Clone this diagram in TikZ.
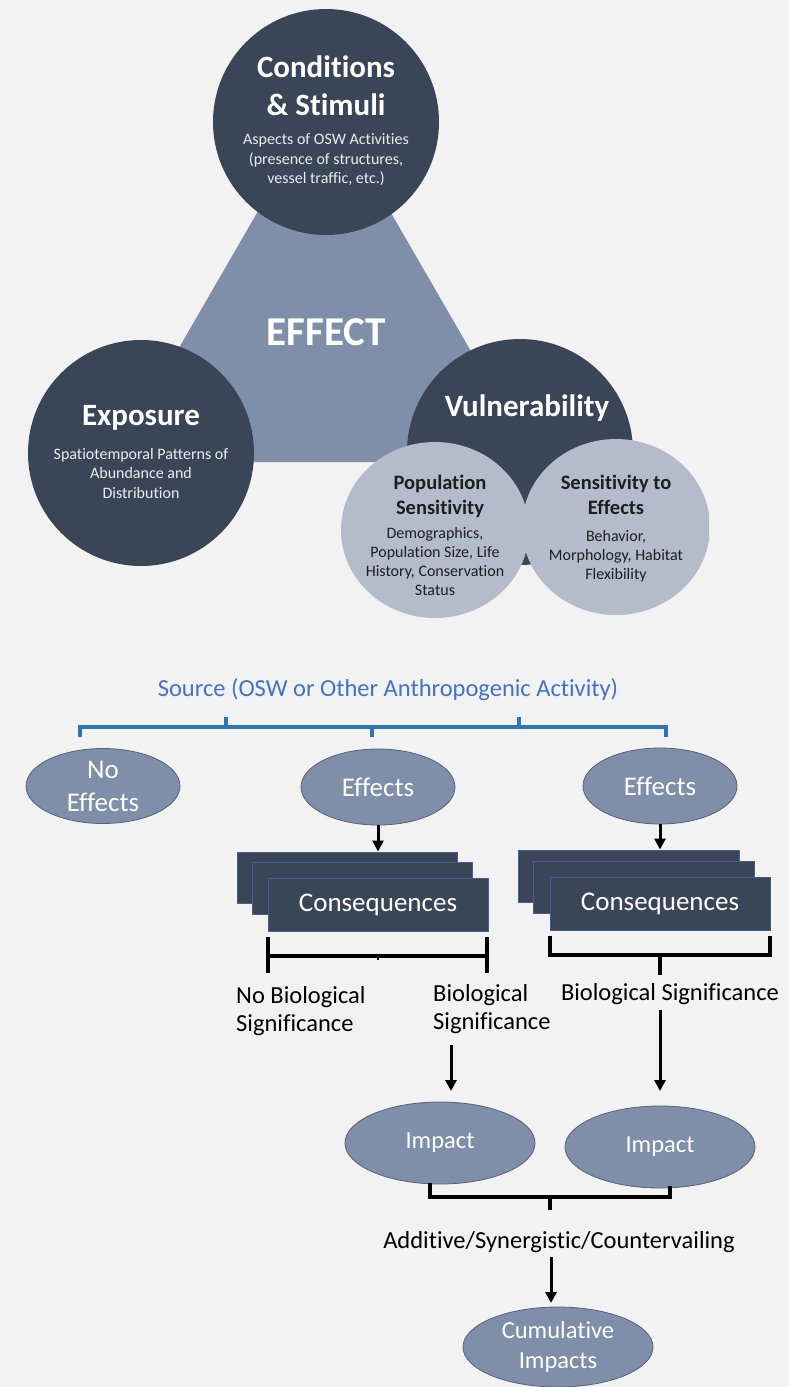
\documentclass[tikz,border=0pt]{standalone}
\usepackage{fontspec}
\setmainfont{Carlito}[Ligatures=NoCommon]
\usetikzlibrary{shapes.geometric,arrows.meta}
\definecolor{bg}{HTML}{F2F2F2}
\definecolor{navy}{HTML}{3B4558}
\definecolor{slate}{HTML}{7F8FA9}
\definecolor{lightc}{HTML}{B4BCCB}
\definecolor{ovaledge}{HTML}{56627A}
\definecolor{consedge}{HTML}{4A5C92}
\definecolor{srcblue}{HTML}{4472C4}
\definecolor{brblue}{HTML}{2E75B6}
\definecolor{darktext}{HTML}{1E1E1E}
\definecolor{softwhite}{HTML}{ECECEC}
\tikzset{
  darkcirc/.style={circle, fill=navy, minimum size=226pt, inner sep=0pt},
  lightcirc/.style={ellipse, fill=lightc, minimum width=188pt, minimum height=176pt, inner sep=0pt},
  head/.style={text=white, font=\bfseries\fontsize{31}{38}\selectfont, align=center, inner sep=0pt},
  small/.style={text=softwhite, font=\fontsize{16}{19.5}\selectfont, align=center, inner sep=0pt},
  lhead/.style={text=darktext, font=\bfseries\fontsize{20.5}{25}\selectfont, align=center, inner sep=0pt},
  lsmall/.style={text=darktext, font=\fontsize{16}{19}\selectfont, align=center, inner sep=0pt},
  oval/.style={ellipse, fill=slate, draw=ovaledge, line width=0.8pt, text=white, inner sep=0pt, align=center, font=\fontsize{27}{33}\selectfont},
  consbox/.style={rectangle, fill=navy, draw=consedge, line width=1pt, minimum width=220pt, minimum height=52pt, inner sep=0pt, text=white, font=\fontsize{27}{30}\selectfont},
  lbl/.style={text=black, font=\fontsize{24.5}{28}\selectfont, inner sep=0pt},
  link/.style={line width=3.3pt, black},
  arr/.style={line width=3pt, black, -{Triangle[length=11pt,width=11pt]}},
  bluebr/.style={line width=3.3pt, brblue}
}
\begin{document}
\begin{tikzpicture}[x=1pt,y=-1pt]
\fill[bg] (0,0) rectangle (789,1387);
\useasboundingbox (0,0) rectangle (789,1387);
% ---------- top figure ----------
\fill[slate] (113,462) -- (324,97) -- (535,462) -- cycle;
\node[darkcirc] (cond) at (326,122) {};
\node[darkcirc] (expo) at (141,453) {};
\node[darkcirc] (vuln) at (520,452) {};
\node[lightcirc] (pop) at (435,530) {};
\begin{scope}
\clip (0,0) rectangle (709,640);
\node[lightcirc] (sens) at (616,527) {};
\end{scope}
\node[text=white, font=\bfseries\fontsize{41}{45}\selectfont, inner sep=0pt] (effect) at (326,332) {EFFECT};
\node[head] (condh) at (326,86) {Conditions\\\& Stimuli};
\node[small] (conds) at (326,160) {Aspects of OSW Activities\\(presence of structures,\\vessel traffic, etc.)};
\node[head] (expoh) at (141,418) {Exposure};
\node[small] (expos) at (141,473) {Spatiotemporal Patterns of\\Abundance and\\Distribution};
\node[head] (vulnh) at (527,408) {Vulnerability};
\node[lhead] (poph) at (440,496) {Population\\Sensitivity};
\node[lsmall] (pops) at (435,561) {Demographics,\\Population Size, Life\\History, Conservation\\Status};
\node[lhead] (sensh) at (616,495) {Sensitivity to\\Effects};
\node[lsmall] (senss) at (616,556) {Behavior,\\Morphology, Habitat\\Flexibility};
% ---------- bottom flow ----------
\node[text=srcblue, font=\fontsize{24.5}{28}\selectfont, inner sep=0pt] (src) at (388,690) {Source (OSW or Other Anthropogenic Activity)};
\coordinate (bl) at (80,727);
\coordinate (br) at (666,727);
\coordinate (bm) at (372,727);
\coordinate (bu1) at (226,727);
\coordinate (bu2) at (519,727);
\draw[bluebr] ([yshift=-10pt]bl) -- (bl) -- (br) -- ([yshift=-10pt]br);
\draw[bluebr] (bm) -- ([yshift=-10pt]bm);
\draw[bluebr] (bu1) -- ([yshift=10pt]bu1);
\draw[bluebr] (bu2) -- ([yshift=10pt]bu2);

\node[oval, minimum width=154pt, minimum height=75pt] (noeff) at (103,786) {No\\Effects};
\node[oval, minimum width=154pt, minimum height=76pt] (eff1) at (378,787) {Effects};
\node[oval, minimum width=154pt, minimum height=76pt] (eff2) at (660,786) {Effects};

\node[consbox, minimum width=220pt, minimum height=51pt] (c1a) at (347,877.5) {};
\node[consbox, minimum width=220pt, minimum height=52pt] (c1b) at (362,888) {};
\node[consbox, minimum width=220pt, minimum height=53pt] (c1) at (378,904.5) {Consequences};
\node[consbox, minimum width=221pt, minimum height=52pt] (c2a) at (628.5,876) {};
\node[consbox, minimum width=221pt, minimum height=52pt] (c2b) at (643.5,887) {};
\node[consbox, minimum width=220pt, minimum height=53pt] (c2) at (660,903.5) {Consequences};

\draw[arr] (eff1.south) -- (eff1.south |- c1a.north);
\draw[arr] (eff2.south) -- (eff2.south |- c2a.north);

% bracket under first stack
\coordinate (m1l) at (268,956);
\coordinate (m1r) at (487,956);
\draw[link] ([yshift=19pt]m1l) -- ([yshift=-17pt]m1l);
\draw[link] ([yshift=19pt]m1r) -- ([yshift=-17pt]m1r);
\draw[link] (m1l) -- (m1r);
\draw[line width=2pt] (378,956) -- (378,960);

% bracket under second stack
\coordinate (m2l) at (550,955);
\coordinate (m2r) at (770,955);
\coordinate (m2m) at (660,955);
\draw[link] ([yshift=19pt]m2l) -- (m2l) -- (m2r) -- ([yshift=19pt]m2r);
\draw[link] (m2m) -- ([yshift=-20pt]m2m);

\node[lbl, anchor=west, align=left] (nobio) at (236,1011) {No Biological\\Significance};
\node[lbl, anchor=west, align=left] (bio1) at (433,1009) {Biological\\Significance};
\node[lbl] (bio2) at (670,994) {Biological Significance};

\node[oval, minimum width=190pt, minimum height=82pt, font=\fontsize{24.5}{30}\selectfont] (imp1) at (440,1143) {Impact};
\node[oval, minimum width=190pt, minimum height=82pt, font=\fontsize{24.5}{30}\selectfont] (imp2) at (660,1147) {Impact};

\coordinate (a1s) at (451,1045);
\coordinate (a1e) at (451,1091);
\coordinate (a2s) at (660,1010);
\coordinate (a2e) at (660,1091);
\draw[arr] (a1s) -- (a1e);
\draw[arr] (a2s) -- (a2e);

\coordinate (ibl) at (430,1197);
\coordinate (ibr) at (670,1197);
\coordinate (ibm) at (550,1197);
\draw[link] (430,1183) -- (ibl) -- (ibr) -- (670,1186);
\draw[link] (ibm) -- ([yshift=-13pt]ibm);

\node[lbl] (add) at (559,1242) {Additive/Synergistic/Countervailing};

\node[oval, minimum width=190pt, minimum height=80pt, font=\fontsize{24.5}{30}\selectfont] (cum) at (558,1347) {Cumulative\\Impacts};
\draw[arr] (551,1257) -- (551,1303);
\end{tikzpicture}
\end{document}
